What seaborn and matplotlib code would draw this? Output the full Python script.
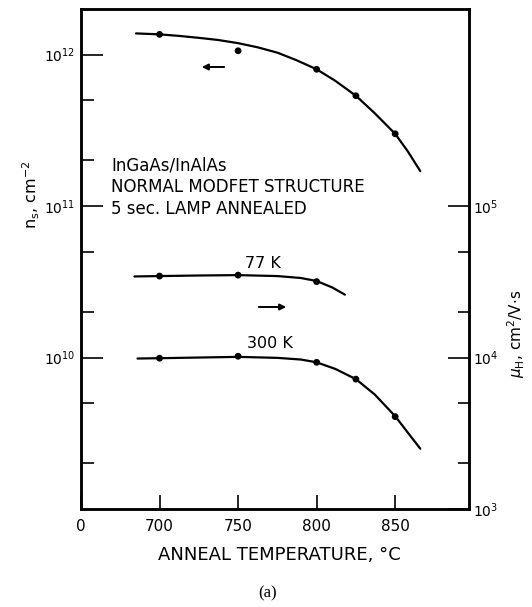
import numpy as np
import pandas as pd
import matplotlib
matplotlib.use("Agg")
import matplotlib.pyplot as plt
import matplotlib.ticker as mticker
import seaborn as sns

# ---------------- data ----------------
# measured points
ns_T = [700, 750, 800, 825, 850]
ns_vals = [1.36e12, 1.06e12, 8.0e11, 5.35e11, 3.0e11]
mu77_T = [700, 750, 800]
mu77_vals = [3.45e4, 3.5e4, 3.17e4]
mu300_T = [700, 750, 800, 825, 850]
mu300_vals = [9.9e3, 1.02e4, 9.3e3, 7.2e3, 4.07e3]

# hand-drawn fit curves (estimated along the drawn lines)
ns_curve_T = [685, 700, 712, 725, 737, 750, 762, 775, 787, 800, 812, 825, 837, 850, 858, 866]
ns_curve = [1.38e12, 1.36e12, 1.33e12, 1.29e12, 1.25e12, 1.19e12, 1.12e12, 1.03e12, 9.2e11, 8.0e11,
            6.7e11, 5.35e11, 4.1e11, 3.0e11, 2.3e11, 1.7e11]
mu77_curve_T = [684, 700, 725, 750, 775, 790, 800, 810, 818]
mu77_curve = [3.43e4, 3.45e4, 3.48e4, 3.5e4, 3.45e4, 3.35e4, 3.2e4, 2.9e4, 2.6e4]
mu300_curve_T = [686, 700, 725, 750, 775, 790, 800, 812, 825, 837, 850, 858, 866]
mu300_curve = [9.85e3, 9.9e3, 1.0e4, 1.01e4, 9.95e3, 9.7e3, 9.3e3, 8.4e3, 7.2e3, 5.7e3, 4.1e3, 3.2e3, 2.5e3]

x_ticks = [650, 700, 750, 800, 850]
x_ticklabels = ["0", "700", "750", "800", "850"]
left_major = [1e10, 1e11, 1e12]
left_labels = ["$10^{10}$", "$10^{11}$", "$10^{12}$"]
left_minor = [2e9, 5e9, 2e10, 5e10, 2e11, 5e11]
right_major = [1e3, 1e4, 1e5]
right_labels = ["$10^{3}$", "$10^{4}$", "$10^{5}$"]
right_minor = [2e3, 5e3, 2e4, 5e4]

# ---------------- figure ----------------
sns.set_theme(style="ticks")
plt.rcParams["font.family"] = ["DejaVu Sans"]
plt.rcParams["mathtext.fontset"] = "dejavusans"
plt.rcParams.update({"text.color": "black", "axes.labelcolor": "black",
                     "xtick.color": "black", "ytick.color": "black"})

W, H = 532, 607
fig = plt.figure(figsize=(W / 100, H / 100), dpi=100)
L, R, T, B = 81, 469, 9, 509
ax = fig.add_axes([L / W, 1 - B / H, (R - L) / W, (B - T) / H])
ax2 = ax.twinx()

lw = 1.6
df_ns_c = pd.DataFrame({"T": ns_curve_T, "v": ns_curve})
df_77_c = pd.DataFrame({"T": mu77_curve_T, "v": mu77_curve})
df_300_c = pd.DataFrame({"T": mu300_curve_T, "v": mu300_curve})
sns.lineplot(data=df_ns_c, x="T", y="v", ax=ax, color="black", lw=lw)
sns.scatterplot(x=ns_T, y=ns_vals, ax=ax, color="black", s=24, edgecolor="none")
sns.lineplot(data=df_77_c, x="T", y="v", ax=ax2, color="black", lw=lw)
sns.lineplot(data=df_300_c, x="T", y="v", ax=ax2, color="black", lw=lw)
sns.scatterplot(x=mu77_T, y=mu77_vals, ax=ax2, color="black", s=24, edgecolor="none")
sns.scatterplot(x=mu300_T, y=mu300_vals, ax=ax2, color="black", s=24, edgecolor="none")

ax.set_yscale("log")
ax2.set_yscale("log")
ax.set_xlim(650, 897)
ax.set_ylim(1e9, 2e12)
ax2.set_ylim(1e3, 2e6)

# x ticks
ax.set_xticks(x_ticks)
ax.set_xticklabels(x_ticklabels, fontsize=11)
ax.tick_params(axis="x", direction="in", length=10, width=1.2, pad=7, top=False)

# left ticks
ax.yaxis.set_major_locator(mticker.FixedLocator(left_major))
ax.yaxis.set_major_formatter(mticker.FixedFormatter(left_labels))
ax.yaxis.set_minor_locator(mticker.FixedLocator(left_minor))
ax.yaxis.set_minor_formatter(mticker.NullFormatter())
ax.tick_params(axis="y", which="major", direction="in", length=16, width=1.2, labelsize=10, pad=4)
ax.tick_params(axis="y", which="minor", direction="in", length=9, width=1.2)

# right ticks
ax2.yaxis.set_major_locator(mticker.FixedLocator(right_major))
ax2.yaxis.set_major_formatter(mticker.FixedFormatter(right_labels))
ax2.yaxis.set_minor_locator(mticker.FixedLocator(right_minor))
ax2.yaxis.set_minor_formatter(mticker.NullFormatter())
ax2.tick_params(axis="y", which="major", direction="in", length=15, width=1.2, labelsize=10, pad=3)
ax2.tick_params(axis="y", which="minor", direction="in", length=8, width=1.2)

for a in (ax, ax2):
    for s in a.spines.values():
        s.set_linewidth(1.8)
        s.set_color("black")
        s.set_visible(True)
    a.set_xlabel("")
    a.set_ylabel("")

ax.set_xlabel("ANNEAL TEMPERATURE, °C", fontsize=13, labelpad=9)
ax.xaxis.set_label_coords(0.51, -0.075)
ax.set_ylabel("n$_\\mathregular{s}$, cm$^{-2}$", fontsize=11.5)
ax.yaxis.set_label_coords(-0.10, 0.628)
ax2.set_ylabel("$\\mu_\\mathregular{H}$, cm$^2$/V$\\cdot$s", fontsize=11)
ax2.yaxis.set_label_coords(1.093, 0.35)

# annotations
txt_kw = dict(fontsize=12, color="black", ha="left", va="center", transform=ax.transAxes)
ax.text((111 - L) / (R - L), (B - 165) / (B - T), "InGaAs/InAlAs", **txt_kw)
ax.text((111 - L) / (R - L), (B - 187) / (B - T), "NORMAL MODFET STRUCTURE", **txt_kw)
ax.text((111 - L) / (R - L), (B - 209) / (B - T), "5 sec. LAMP ANNEALED", **txt_kw)
ax.text((263 - L) / (R - L), (B - 263) / (B - T), "77 K", fontsize=11.5, ha="center", va="center", transform=ax.transAxes)
ax.text((270 - L) / (R - L), (B - 343) / (B - T), "300 K", fontsize=11.5, ha="center", va="center", transform=ax.transAxes)

arrow_kw = dict(arrowstyle="-|>", color="black", lw=1.4, mutation_scale=9)
ax.annotate("", xy=((199 - L) / (R - L), (B - 67) / (B - T)), xytext=((227 - L) / (R - L), (B - 67) / (B - T)),
            xycoords="axes fraction", arrowprops=arrow_kw)
ax.annotate("", xy=((289 - L) / (R - L), (B - 307) / (B - T)), xytext=((256 - L) / (R - L), (B - 307) / (B - T)),
            xycoords="axes fraction", arrowprops=arrow_kw)

fig.text(268 / W, 1 - 593 / H, "(a)", fontsize=12, family="Liberation Serif", ha="center", va="center")

fig.savefig("out.png", dpi=100)
